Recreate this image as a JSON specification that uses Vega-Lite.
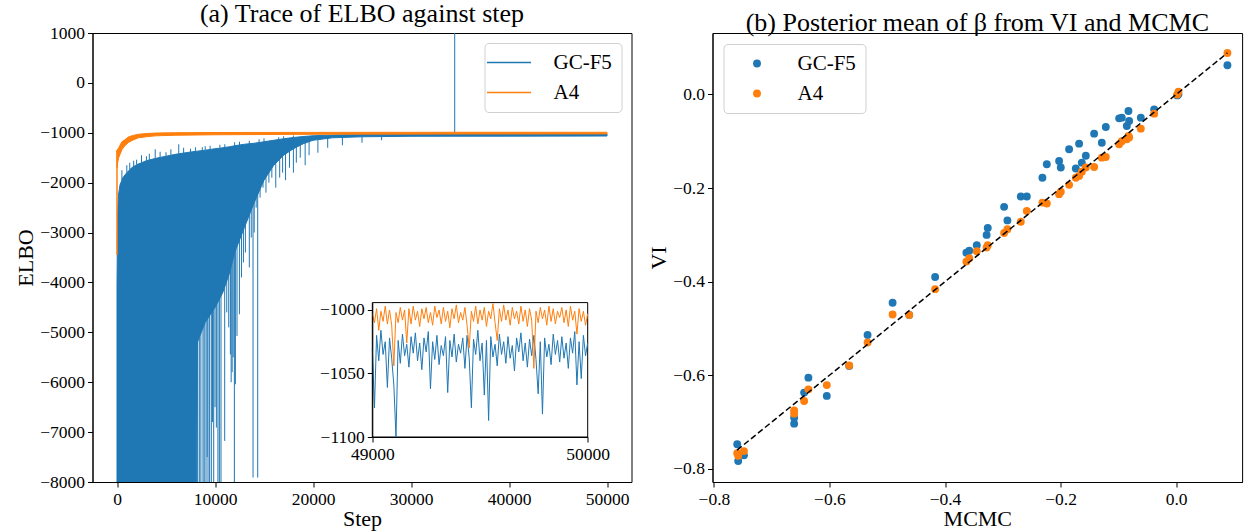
{
  "$schema": "https://vega.github.io/schema/vega-lite/v6.json",
  "background": "white",
  "padding": {"left": 13.5, "top": 0, "right": 5, "bottom": 5},
  "bounds": "flush",
  "spacing": 81,
  "datasets": {
    "gcBand": [
      {"s": 0, "hi": -4050, "lo": -9000}, {"s": 60, "hi": -2600, "lo": -9000}, {"s": 150, "hi": -2250, "lo": -9000},
      {"s": 300, "hi": -2050, "lo": -9000}, {"s": 600, "hi": -1900, "lo": -9000}, {"s": 1000, "hi": -1800, "lo": -9000},
      {"s": 1500, "hi": -1700, "lo": -9000}, {"s": 2000, "hi": -1640, "lo": -9000}, {"s": 3000, "hi": -1560, "lo": -9000},
      {"s": 4000, "hi": -1510, "lo": -9000}, {"s": 5000, "hi": -1470, "lo": -9000}, {"s": 6000, "hi": -1430, "lo": -9000},
      {"s": 7000, "hi": -1400, "lo": -9000}, {"s": 8100, "hi": -1370, "lo": -9000}, {"s": 8200, "hi": -1368, "lo": -5200},
      {"s": 9000, "hi": -1350, "lo": -4800}, {"s": 10000, "hi": -1320, "lo": -4500}, {"s": 10800, "hi": -1300, "lo": -4200},
      {"s": 11500, "hi": -1280, "lo": -3800}, {"s": 12000, "hi": -1260, "lo": -3400}, {"s": 13000, "hi": -1230, "lo": -2900},
      {"s": 14000, "hi": -1210, "lo": -2400}, {"s": 15000, "hi": -1180, "lo": -1950}, {"s": 16000, "hi": -1150, "lo": -1650},
      {"s": 17000, "hi": -1120, "lo": -1450}, {"s": 18000, "hi": -1095, "lo": -1320}, {"s": 19000, "hi": -1075, "lo": -1220},
      {"s": 20000, "hi": -1060, "lo": -1150}, {"s": 22000, "hi": -1045, "lo": -1100}, {"s": 25000, "hi": -1035, "lo": -1080},
      {"s": 30000, "hi": -1025, "lo": -1070}, {"s": 40000, "hi": -1022, "lo": -1068}, {"s": 50000, "hi": -1020, "lo": -1065}
    ],
    "gcSpikes": [
      {"s": 8230, "lo": -9000, "hi": -1500}, {"s": 8400, "lo": -9000, "hi": -1500}, {"s": 8560, "lo": -8200, "hi": -1500},
      {"s": 8776, "lo": -9000, "hi": -1500}, {"s": 8900, "lo": -9000, "hi": -1500}, {"s": 9082, "lo": -9000, "hi": -1500},
      {"s": 9200, "lo": -7500, "hi": -1500}, {"s": 9286, "lo": -9000, "hi": -1500}, {"s": 9450, "lo": -9000, "hi": -1500},
      {"s": 9626, "lo": -9000, "hi": -1500}, {"s": 9750, "lo": -6800, "hi": -1500}, {"s": 9867, "lo": -9000, "hi": -1500},
      {"s": 10000, "lo": -6500, "hi": -1500}, {"s": 10140, "lo": -6909, "hi": -1500}, {"s": 10300, "lo": -9000, "hi": -1500},
      {"s": 10445, "lo": -9000, "hi": -1500}, {"s": 10612, "lo": -9000, "hi": -1500}, {"s": 10990, "lo": -7176, "hi": -1500},
      {"s": 11200, "lo": -4600, "hi": -1500}, {"s": 11400, "lo": -4900, "hi": -1500}, {"s": 11570, "lo": -5440, "hi": -1500},
      {"s": 11650, "lo": -6000, "hi": -1500}, {"s": 11750, "lo": -5800, "hi": -1500}, {"s": 11850, "lo": -5500, "hi": -1500},
      {"s": 11976, "lo": -9000, "hi": -1500}, {"s": 12080, "lo": -6041, "hi": -1500}, {"s": 12245, "lo": -5072, "hi": -1500},
      {"s": 12490, "lo": -4638, "hi": -1500}, {"s": 12700, "lo": -3900, "hi": -1500}, {"s": 12900, "lo": -3600, "hi": -1500},
      {"s": 13100, "lo": -3400, "hi": -1500}, {"s": 13300, "lo": -2700, "hi": -1500}, {"s": 13500, "lo": -3700, "hi": -1500},
      {"s": 13700, "lo": -3100, "hi": -1500}, {"s": 13880, "lo": -7911, "hi": -1500}, {"s": 14000, "lo": -3000, "hi": -1500},
      {"s": 14200, "lo": -2500, "hi": -1500}, {"s": 14357, "lo": -7911, "hi": -1500}, {"s": 14600, "lo": -2300, "hi": -1500},
      {"s": 14900, "lo": -2100, "hi": -1500}, {"s": 15200, "lo": -2200, "hi": -1400}, {"s": 15500, "lo": -2000, "hi": -1400},
      {"s": 15800, "lo": -1900, "hi": -1400}, {"s": 16200, "lo": -2100, "hi": -1400}, {"s": 16600, "lo": -1900, "hi": -1300},
      {"s": 16900, "lo": -1800, "hi": -1300}, {"s": 17200, "lo": -1950, "hi": -1300}, {"s": 17600, "lo": -1700, "hi": -1200},
      {"s": 18000, "lo": -1800, "hi": -1200}, {"s": 18300, "lo": -1600, "hi": -1200}, {"s": 18700, "lo": -1500, "hi": -1150},
      {"s": 19200, "lo": -1650, "hi": -1100}, {"s": 19600, "lo": -1450, "hi": -1100}, {"s": 20500, "lo": -1400, "hi": -1080},
      {"s": 21500, "lo": -1300, "hi": -1070}, {"s": 23000, "lo": -1250, "hi": -1060}, {"s": 25000, "lo": -1200, "hi": -1050},
      {"s": 27000, "lo": -1150, "hi": -1050},
      {"s": 500, "lo": -1950, "hi": -1750}, {"s": 1000, "lo": -1800, "hi": -1650}, {"s": 1300, "lo": -1740, "hi": -1600},
      {"s": 1700, "lo": -1680, "hi": -1560}, {"s": 2000, "lo": -1640, "hi": -1540}, {"s": 2500, "lo": -1600, "hi": -1450},
      {"s": 3000, "lo": -1560, "hi": -1470}, {"s": 3300, "lo": -1545, "hi": -1420}, {"s": 3900, "lo": -1510, "hi": -1330},
      {"s": 4400, "lo": -1495, "hi": -1380}, {"s": 5000, "lo": -1470, "hi": -1390}, {"s": 5500, "lo": -1450, "hi": -1330},
      {"s": 6300, "lo": -1420, "hi": -1230}, {"s": 6800, "lo": -1405, "hi": -1300}, {"s": 7500, "lo": -1390, "hi": -1320},
      {"s": 8000, "lo": -1375, "hi": -1290}, {"s": 8700, "lo": -1360, "hi": -1290}, {"s": 9000, "lo": -1350, "hi": -1270},
      {"s": 9500, "lo": -1335, "hi": -1260}, {"s": 10500, "lo": -1300, "hi": -1240}, {"s": 11000, "lo": -1295, "hi": -1230},
      {"s": 12000, "lo": -1260, "hi": -1190}, {"s": 12500, "lo": -1245, "hi": -1180}, {"s": 13500, "lo": -1225, "hi": -1160},
      {"s": 14500, "lo": -1195, "hi": -1130}, {"s": 15000, "lo": -1180, "hi": -1110}, {"s": 16500, "lo": -1140, "hi": -1090},
      {"s": 17000, "lo": -1120, "hi": -1070}, {"s": 18000, "lo": -1095, "hi": -1055}, {"s": 34460, "lo": -1040, "hi": 1200}
    ],
    "a4Band": [
      {"s": 0, "hi": -1350, "lo": -1700}, {"s": 70, "hi": -1330, "lo": -1600}, {"s": 170, "hi": -1300, "lo": -1500},
      {"s": 500, "hi": -1180, "lo": -1340}, {"s": 800, "hi": -1140, "lo": -1260}, {"s": 1200, "hi": -1080, "lo": -1190},
      {"s": 1700, "hi": -1050, "lo": -1140}, {"s": 2200, "hi": -1030, "lo": -1100}, {"s": 3000, "hi": -1015, "lo": -1080},
      {"s": 4000, "hi": -1005, "lo": -1060}, {"s": 6000, "hi": -998, "lo": -1050}, {"s": 10000, "hi": -995, "lo": -1040},
      {"s": 20000, "hi": -992, "lo": -1030}, {"s": 35000, "hi": -990, "lo": -1025}, {"s": 50000, "hi": -990, "lo": -1022}
    ],
    "a4Spikes": [
      {"s": 0, "lo": -3450, "hi": -1350}
    ],
    "insetGC": [
      {"s": 49000, "v": -1030}, {"s": 49010, "v": -1077}, {"s": 49020, "v": -1020}, {"s": 49030, "v": -1040}, {"s": 49040, "v": -1016},
      {"s": 49050, "v": -1035}, {"s": 49060, "v": -1025}, {"s": 49070, "v": -1061}, {"s": 49080, "v": -1022}, {"s": 49090, "v": -1038},
      {"s": 49100, "v": -1059}, {"s": 49110, "v": -1100}, {"s": 49120, "v": -1024}, {"s": 49130, "v": -1042}, {"s": 49140, "v": -1019},
      {"s": 49150, "v": -1036}, {"s": 49160, "v": -1027}, {"s": 49170, "v": -1045}, {"s": 49180, "v": -1021}, {"s": 49190, "v": -1034},
      {"s": 49200, "v": -1018}, {"s": 49210, "v": -1040}, {"s": 49220, "v": -1026}, {"s": 49230, "v": -1047}, {"s": 49240, "v": -1022},
      {"s": 49250, "v": -1033}, {"s": 49260, "v": -1017}, {"s": 49270, "v": -1062}, {"s": 49280, "v": -1025}, {"s": 49290, "v": -1039},
      {"s": 49300, "v": -1020}, {"s": 49310, "v": -1043}, {"s": 49320, "v": -1028}, {"s": 49330, "v": -1036}, {"s": 49340, "v": -1021},
      {"s": 49350, "v": -1065}, {"s": 49360, "v": -1024}, {"s": 49370, "v": -1037}, {"s": 49380, "v": -1019}, {"s": 49390, "v": -1041},
      {"s": 49400, "v": -1027}, {"s": 49410, "v": -1034}, {"s": 49420, "v": -1022}, {"s": 49430, "v": -1046}, {"s": 49440, "v": -1020},
      {"s": 49450, "v": -1038}, {"s": 49460, "v": -1077}, {"s": 49470, "v": -1023}, {"s": 49480, "v": -1035}, {"s": 49490, "v": -1016},
      {"s": 49500, "v": -1040}, {"s": 49510, "v": -1026}, {"s": 49520, "v": -1067}, {"s": 49530, "v": -1024}, {"s": 49540, "v": -1087},
      {"s": 49550, "v": -1021}, {"s": 49560, "v": -1037}, {"s": 49570, "v": -1027}, {"s": 49580, "v": -1044}, {"s": 49590, "v": -1019},
      {"s": 49600, "v": -1035}, {"s": 49610, "v": -1025}, {"s": 49620, "v": -1042}, {"s": 49630, "v": -1021}, {"s": 49640, "v": -1038},
      {"s": 49650, "v": -1028}, {"s": 49660, "v": -1048}, {"s": 49670, "v": -1022}, {"s": 49680, "v": -1033}, {"s": 49690, "v": -1018},
      {"s": 49700, "v": -1040}, {"s": 49710, "v": -1026}, {"s": 49720, "v": -1045}, {"s": 49730, "v": -1023}, {"s": 49740, "v": -1036},
      {"s": 49750, "v": -1020}, {"s": 49760, "v": -1039}, {"s": 49770, "v": -1066}, {"s": 49780, "v": -1025}, {"s": 49790, "v": -1082},
      {"s": 49800, "v": -1022}, {"s": 49810, "v": -1037}, {"s": 49820, "v": -1027}, {"s": 49830, "v": -1043}, {"s": 49840, "v": -1019},
      {"s": 49850, "v": -1035}, {"s": 49860, "v": -1024}, {"s": 49870, "v": -1041}, {"s": 49880, "v": -1021}, {"s": 49890, "v": -1038},
      {"s": 49900, "v": -1026}, {"s": 49910, "v": -1046}, {"s": 49920, "v": -1022}, {"s": 49930, "v": -1034}, {"s": 49940, "v": -1017},
      {"s": 49950, "v": -1059}, {"s": 49960, "v": -1025}, {"s": 49970, "v": -1054}, {"s": 49980, "v": -1020}, {"s": 49990, "v": -1036},
      {"s": 50000, "v": -1026}
    ],
    "insetA4": [
      {"s": 49000, "v": -1003}, {"s": 49010, "v": -1010}, {"s": 49020, "v": -999}, {"s": 49030, "v": -1016}, {"s": 49040, "v": -1001},
      {"s": 49050, "v": -1009}, {"s": 49060, "v": -997}, {"s": 49070, "v": -1011}, {"s": 49080, "v": -1000}, {"s": 49090, "v": -1012},
      {"s": 49100, "v": -1044}, {"s": 49110, "v": -1002}, {"s": 49120, "v": -1010}, {"s": 49130, "v": -998}, {"s": 49140, "v": -1008},
      {"s": 49150, "v": -1000}, {"s": 49160, "v": -1026}, {"s": 49170, "v": -999}, {"s": 49180, "v": -1011}, {"s": 49190, "v": -997},
      {"s": 49200, "v": -1008}, {"s": 49210, "v": -1001}, {"s": 49220, "v": -1013}, {"s": 49230, "v": -999}, {"s": 49240, "v": -1007},
      {"s": 49250, "v": -998}, {"s": 49260, "v": -1010}, {"s": 49270, "v": -1002}, {"s": 49280, "v": -1012}, {"s": 49290, "v": -997},
      {"s": 49300, "v": -1006}, {"s": 49310, "v": -1000}, {"s": 49320, "v": -1011}, {"s": 49330, "v": -998}, {"s": 49340, "v": -1009},
      {"s": 49350, "v": -1001}, {"s": 49360, "v": -1014}, {"s": 49370, "v": -999}, {"s": 49380, "v": -1007}, {"s": 49390, "v": -996},
      {"s": 49400, "v": -1010}, {"s": 49410, "v": -1002}, {"s": 49420, "v": -1008}, {"s": 49430, "v": -998}, {"s": 49440, "v": -1012},
      {"s": 49450, "v": -1030}, {"s": 49460, "v": -1001}, {"s": 49470, "v": -1009}, {"s": 49480, "v": -997}, {"s": 49490, "v": -1011},
      {"s": 49500, "v": -1000}, {"s": 49510, "v": -1008}, {"s": 49520, "v": -998}, {"s": 49530, "v": -1013}, {"s": 49540, "v": -1001},
      {"s": 49550, "v": -1007}, {"s": 49560, "v": -995}, {"s": 49570, "v": -1010}, {"s": 49580, "v": -1024}, {"s": 49590, "v": -999},
      {"s": 49600, "v": -1009}, {"s": 49610, "v": -996}, {"s": 49620, "v": -1008}, {"s": 49630, "v": -1000}, {"s": 49640, "v": -1012},
      {"s": 49650, "v": -998}, {"s": 49660, "v": -1007}, {"s": 49670, "v": -1001}, {"s": 49680, "v": -1011}, {"s": 49690, "v": -997},
      {"s": 49700, "v": -1009}, {"s": 49710, "v": -1000}, {"s": 49720, "v": -1013}, {"s": 49730, "v": -999}, {"s": 49740, "v": -1008},
      {"s": 49750, "v": -1046}, {"s": 49760, "v": -1001}, {"s": 49770, "v": -1010}, {"s": 49780, "v": -998}, {"s": 49790, "v": -1007},
      {"s": 49800, "v": -1000}, {"s": 49810, "v": -1012}, {"s": 49820, "v": -997}, {"s": 49830, "v": -1009}, {"s": 49840, "v": -999},
      {"s": 49850, "v": -1011}, {"s": 49860, "v": -1001}, {"s": 49870, "v": -1006}, {"s": 49880, "v": -998}, {"s": 49890, "v": -1010},
      {"s": 49900, "v": -1000}, {"s": 49910, "v": -1013}, {"s": 49920, "v": -997}, {"s": 49930, "v": -1008}, {"s": 49940, "v": -1001},
      {"s": 49950, "v": -1019}, {"s": 49960, "v": -999}, {"s": 49970, "v": -1009}, {"s": 49980, "v": -1001}, {"s": 49990, "v": -1012},
      {"s": 50000, "v": -1003}
    ],
    "scatter": [
      {"m": -0.7596, "v": -0.7474, "g": "GC-F5"}, {"m": -0.7579, "v": -0.783, "g": "GC-F5"}, {"m": -0.748, "v": -0.771, "g": "GC-F5"},
      {"m": -0.6611, "v": -0.6906, "g": "GC-F5"}, {"m": -0.6611, "v": -0.7034, "g": "GC-F5"}, {"m": -0.6438, "v": -0.637, "g": "GC-F5"},
      {"m": -0.6364, "v": -0.605, "g": "GC-F5"}, {"m": -0.6046, "v": -0.644, "g": "GC-F5"}, {"m": -0.5658, "v": -0.58, "g": "GC-F5"},
      {"m": -0.534, "v": -0.514, "g": "GC-F5"}, {"m": -0.4907, "v": -0.445, "g": "GC-F5"}, {"m": -0.4619, "v": -0.471, "g": "GC-F5"},
      {"m": -0.4171, "v": -0.39, "g": "GC-F5"}, {"m": -0.363, "v": -0.338, "g": "GC-F5"}, {"m": -0.358, "v": -0.334, "g": "GC-F5"},
      {"m": -0.345, "v": -0.322, "g": "GC-F5"}, {"m": -0.328, "v": -0.3, "g": "GC-F5"}, {"m": -0.326, "v": -0.285, "g": "GC-F5"},
      {"m": -0.2977, "v": -0.24, "g": "GC-F5"}, {"m": -0.292, "v": -0.269, "g": "GC-F5"}, {"m": -0.2688, "v": -0.218, "g": "GC-F5"},
      {"m": -0.2584, "v": -0.218, "g": "GC-F5"}, {"m": -0.2314, "v": -0.178, "g": "GC-F5"}, {"m": -0.2238, "v": -0.149, "g": "GC-F5"},
      {"m": -0.2025, "v": -0.142, "g": "GC-F5"}, {"m": -0.1996, "v": -0.156, "g": "GC-F5"}, {"m": -0.1852, "v": -0.117, "g": "GC-F5"},
      {"m": -0.1736, "v": -0.158, "g": "GC-F5"}, {"m": -0.1679, "v": -0.105, "g": "GC-F5"}, {"m": -0.1632, "v": -0.1457, "g": "GC-F5"},
      {"m": -0.1563, "v": -0.131, "g": "GC-F5"}, {"m": -0.1419, "v": -0.0837, "g": "GC-F5"}, {"m": -0.1286, "v": -0.103, "g": "GC-F5"},
      {"m": -0.1217, "v": -0.0694, "g": "GC-F5"}, {"m": -0.0986, "v": -0.0509, "g": "GC-F5"}, {"m": -0.094, "v": -0.0495, "g": "GC-F5"},
      {"m": -0.0853, "v": -0.0673, "g": "GC-F5"}, {"m": -0.0825, "v": -0.0353, "g": "GC-F5"}, {"m": -0.0813, "v": -0.0566, "g": "GC-F5"},
      {"m": -0.0611, "v": -0.0495, "g": "GC-F5"}, {"m": -0.038, "v": -0.0317, "g": "GC-F5"}, {"m": 0.002, "v": -0.002, "g": "GC-F5"},
      {"m": 0.004, "v": 0.0004, "g": "GC-F5"}, {"m": 0.0888, "v": 0.0624, "g": "GC-F5"},
      {"m": -0.7596, "v": -0.7667, "g": "A4"}, {"m": -0.7579, "v": -0.772, "g": "A4"}, {"m": -0.748, "v": -0.762, "g": "A4"},
      {"m": -0.6611, "v": -0.675, "g": "A4"}, {"m": -0.6611, "v": -0.682, "g": "A4"}, {"m": -0.6438, "v": -0.655, "g": "A4"},
      {"m": -0.6364, "v": -0.63, "g": "A4"}, {"m": -0.6046, "v": -0.621, "g": "A4"}, {"m": -0.5658, "v": -0.579, "g": "A4"},
      {"m": -0.534, "v": -0.53, "g": "A4"}, {"m": -0.4907, "v": -0.47, "g": "A4"}, {"m": -0.4619, "v": -0.471, "g": "A4"},
      {"m": -0.4171, "v": -0.416, "g": "A4"}, {"m": -0.363, "v": -0.357, "g": "A4"}, {"m": -0.358, "v": -0.35, "g": "A4"},
      {"m": -0.345, "v": -0.335, "g": "A4"}, {"m": -0.328, "v": -0.327, "g": "A4"}, {"m": -0.326, "v": -0.322, "g": "A4"},
      {"m": -0.2977, "v": -0.296, "g": "A4"}, {"m": -0.292, "v": -0.288, "g": "A4"}, {"m": -0.2688, "v": -0.272, "g": "A4"},
      {"m": -0.2584, "v": -0.249, "g": "A4"}, {"m": -0.2314, "v": -0.231, "g": "A4"}, {"m": -0.2238, "v": -0.233, "g": "A4"},
      {"m": -0.2025, "v": -0.213, "g": "A4"}, {"m": -0.1996, "v": -0.2077, "g": "A4"}, {"m": -0.1852, "v": -0.193, "g": "A4"},
      {"m": -0.1736, "v": -0.178, "g": "A4"}, {"m": -0.1679, "v": -0.174, "g": "A4"}, {"m": -0.1632, "v": -0.165, "g": "A4"},
      {"m": -0.1563, "v": -0.156, "g": "A4"}, {"m": -0.1419, "v": -0.155, "g": "A4"}, {"m": -0.1286, "v": -0.135, "g": "A4"},
      {"m": -0.1217, "v": -0.1335, "g": "A4"}, {"m": -0.0986, "v": -0.1064, "g": "A4"}, {"m": -0.094, "v": -0.1, "g": "A4"},
      {"m": -0.0853, "v": -0.0957, "g": "A4"}, {"m": -0.0825, "v": -0.0887, "g": "A4"}, {"m": -0.0813, "v": -0.092, "g": "A4"},
      {"m": -0.0611, "v": -0.073, "g": "A4"}, {"m": -0.038, "v": -0.041, "g": "A4"}, {"m": 0.002, "v": 0.0, "g": "A4"},
      {"m": 0.004, "v": 0.006, "g": "A4"}, {"m": 0.0888, "v": 0.0887, "g": "A4"}
    ],
    "diag": [
      {"m": -0.76, "v": -0.76}, {"m": 0.0888, "v": 0.0888}
    ]
  },
  "hconcat": [
    {
      "width": 539,
      "height": 449,
      "title": "(a) Trace of ELBO against step",
      "layer": [
        {
          "layer": [
            {
              "data": {"name": "gcSpikes"},
              "mark": {"type": "rule", "strokeWidth": 1, "clip": true},
              "encoding": {
                "x": {"field": "s", "type": "quantitative", "scale": {"domain": [-2500, 52500], "nice": false, "zero": false},
                      "axis": {"title": "Step", "values": [0, 10000, 20000, 30000, 40000, 50000], "format": "d"}},
                "y": {"field": "lo", "type": "quantitative", "scale": {"domain": [-8000, 1000], "nice": false, "zero": false},
                      "axis": {"title": "ELBO", "values": [-8000, -7000, -6000, -5000, -4000, -3000, -2000, -1000, 0, 1000], "format": "d"}},
                "y2": {"field": "hi"},
                "color": {"datum": "GC-F5", "type": "nominal",
                          "scale": {"domain": ["GC-F5", "A4"], "range": ["#1f77b4", "#ff7f0e"]},
                          "legend": {"title": null, "orient": "top-right", "offset": 10, "symbolType": "M-3,0H3", "symbolSize": 215,
                                     "symbolStrokeWidth": 1.5, "symbolOffset": 5, "labelOffset": 34, "padding": 9, "rowPadding": 8,
                                     "strokeColor": "#d0d0d0", "fillColor": "white", "cornerRadius": 4}}
              }
            },
            {
              "data": {"name": "gcBand"},
              "mark": {"type": "area", "clip": true, "stroke": "#1f77b4", "strokeWidth": 1},
              "encoding": {
                "x": {"field": "s", "type": "quantitative", "title": "Step"},
                "y": {"field": "lo", "type": "quantitative", "title": "ELBO"},
                "y2": {"field": "hi"},
                "color": {"datum": "GC-F5", "type": "nominal"}
              }
            },
            {
              "data": {"name": "a4Spikes"},
              "mark": {"type": "rule", "strokeWidth": 1.5, "clip": true},
              "encoding": {
                "x": {"field": "s", "type": "quantitative", "title": "Step"},
                "y": {"field": "lo", "type": "quantitative", "title": "ELBO"},
                "y2": {"field": "hi"},
                "color": {"datum": "A4", "type": "nominal"}
              }
            },
            {
              "data": {"name": "a4Band"},
              "mark": {"type": "area", "clip": true, "stroke": "#ff7f0e", "strokeWidth": 1},
              "encoding": {
                "x": {"field": "s", "type": "quantitative", "title": "Step"},
                "y": {"field": "lo", "type": "quantitative", "title": "ELBO"},
                "y2": {"field": "hi"},
                "color": {"datum": "A4", "type": "nominal"}
              }
            }
          ]
        },
        {
          "layer": [
            {
              "data": {"values": [{}]},
              "mark": {"type": "rect", "fill": "white", "stroke": "black", "strokeWidth": 1},
              "encoding": {
                "x": {"datum": 49000, "type": "quantitative",
                      "scale": {"domain": [49000, 50000], "range": [279.8, 495.2], "nice": false, "zero": false},
                      "axis": {"title": null, "orient": "bottom", "offset": -45, "values": [49000, 50000], "format": "d", "zindex": 2}},
                "x2": {"datum": 50000},
                "y": {"datum": -1100, "type": "quantitative",
                      "scale": {"domain": [-1100, -994.2], "range": [404, 269.6], "nice": false, "zero": false},
                      "axis": {"title": null, "orient": "left", "offset": -279.8, "values": [-1100, -1050, -1000], "format": "d", "zindex": 2}},
                "y2": {"datum": -994.2}
              }
            },
            {
              "data": {"name": "insetGC"},
              "mark": {"type": "line", "strokeWidth": 1},
              "encoding": {
                "x": {"field": "s", "type": "quantitative", "title": null},
                "y": {"field": "v", "type": "quantitative", "title": null},
                "color": {"datum": "GC-F5", "type": "nominal"}
              }
            },
            {
              "data": {"name": "insetA4"},
              "mark": {"type": "line", "strokeWidth": 1},
              "encoding": {
                "x": {"field": "s", "type": "quantitative", "title": null},
                "y": {"field": "v", "type": "quantitative", "title": null},
                "color": {"datum": "A4", "type": "nominal"}
              }
            }
          ]
        }
      ],
      "resolve": {"scale": {"x": "independent", "y": "independent"}, "axis": {"x": "independent", "y": "independent"}}
    },
    {
      "width": 529.6,
      "height": 449,
      "title": "(b) Posterior mean of β from VI and MCMC",
      "layer": [
        {
          "data": {"name": "scatter"},
          "mark": {"type": "circle", "size": 62, "opacity": 1},
          "encoding": {
            "x": {"field": "m", "type": "quantitative", "scale": {"domain": [-0.8024, 0.1142], "nice": false, "zero": false},
                  "axis": {"title": "MCMC", "values": [-0.8, -0.6, -0.4, -0.2, 0.0], "format": ".1f"}},
            "y": {"field": "v", "type": "quantitative", "scale": {"domain": [-0.828, 0.1314], "nice": false, "zero": false},
                  "axis": {"title": "VI", "values": [-0.8, -0.6, -0.4, -0.2, 0.0], "format": ".1f"}},
            "color": {"field": "g", "type": "nominal",
                      "scale": {"domain": ["GC-F5", "A4"], "range": ["#1f77b4", "#ff7f0e"]},
                      "legend": {"title": null, "orient": "top-left", "offset": 11, "symbolType": "circle", "symbolSize": 62,
                                 "symbolOffset": 14, "labelOffset": 30, "padding": 9, "rowPadding": 8,
                                 "strokeColor": "#d0d0d0", "fillColor": "white", "cornerRadius": 4}}
          }
        },
        {
          "data": {"name": "diag"},
          "mark": {"type": "line", "color": "black", "strokeWidth": 1.5, "strokeDash": [6, 3], "clip": true},
          "encoding": {
            "x": {"field": "m", "type": "quantitative", "title": "MCMC"},
            "y": {"field": "v", "type": "quantitative", "title": "VI"}
          }
        }
      ]
    }
  ],
  "resolve": {"scale": {"color": "independent"}, "legend": {"color": "independent"}},
  "config": {
    "font": "Liberation Serif",
    "view": {"stroke": "black", "strokeWidth": 1},
    "axis": {
      "labelFont": "Liberation Serif", "labelFontSize": 17.5, "labelColor": "black",
      "titleFont": "Liberation Serif", "titleFontSize": 22, "titleFontWeight": "normal", "titleColor": "black",
      "domainColor": "black", "domainWidth": 1, "tickColor": "black", "tickSize": 5, "tickWidth": 1,
      "grid": false, "labelPadding": 3, "labelFlush": false, "labelOverlap": false
    },
    "axisY": {"titlePadding": 2},
    "axisX": {"titlePadding": 1},
    "legend": {"labelFont": "Liberation Serif", "labelFontSize": 21, "labelColor": "black"},
    "title": {"font": "Liberation Serif", "fontSize": 26, "fontWeight": "normal", "color": "black", "offset": -3, "anchor": "middle"}
  }
}
